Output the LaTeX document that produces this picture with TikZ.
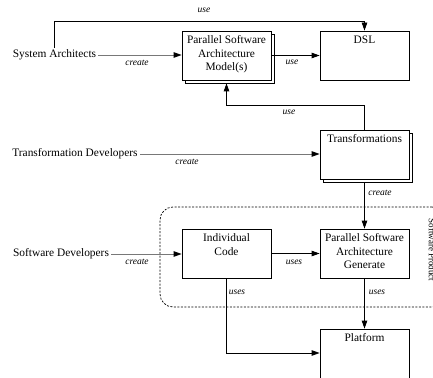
\documentclass[tikz,border=0pt]{standalone}
\usepackage{fontspec}
\setmainfont{Liberation Serif}
\usetikzlibrary{arrows.meta}
\definecolor{gline}{RGB}{120,120,120}
\begin{document}
\begin{tikzpicture}[x=1pt,y=-1pt,
  every node/.style={font=\fontsize{11.4}{13.5}\selectfont},
  actor/.style={inner sep=2pt},
  box/.style={draw, line width=0.8pt, fill=white, minimum width=89pt, minimum height=49pt, inner sep=0pt},
  boxtext/.style={align=center, anchor=north, inner sep=0pt},
  lbl/.style={font=\fontsize{9.5}{11}\selectfont\itshape, inner sep=0pt},
  conn/.style={line width=0.8pt, -{Triangle[length=8pt,width=5.5pt]}},
  gconn/.style={line width=0.8pt, draw=gline, -{Triangle[length=8pt,width=5.5pt,color=black]}},
  product/.style={draw, line width=0.7pt, dash pattern=on 2pt off 1.5pt, rounded corners=13pt, minimum width=285pt, minimum height=100pt, inner sep=0pt}
]
\useasboundingbox (0,0) rectangle (433,377);
\clip (0,0) rectangle (433,377);

% software product region
\node[product] (prod) at (302.5,257) {};
\node[rotate=-90, inner sep=0pt, font=\fontsize{9}{10}\selectfont] (prodlbl) at (432,250) {Software Product};

% actors
\node[actor] (sa) at (54.5,55) {System Architects};
\node[actor] (td) at (75,154) {Transformation Developers};
\node[actor] (sd) at (61,254) {Software Developers};

% boxes
\node[box] (modelsh) at (229.5,58.5) {};
\node[box] (model) at (226.5,55.5) {};
\node[boxtext] (modeltxt) at ([yshift=-5pt]model.north) {Parallel Software\\Architecture\\Model(s)};

\node[box] (dsl) at (364.5,55.5) {};
\node[boxtext] (dsltxt) at ([yshift=-5pt]dsl.north) {DSL};

\node[box] (transsh) at (367.5,157.5) {};
\node[box] (trans) at (364.5,154.5) {};
\node[boxtext] (transtxt) at ([yshift=-5pt]trans.north) {Transformations};

\node[box] (ind) at (226.5,253.5) {};
\node[boxtext] (indtxt) at ([yshift=-5pt]ind.north) {Individual\\Code};

\node[box] (gen) at (364.5,253.5) {};
\node[boxtext] (gentxt) at ([yshift=-5pt]gen.north) {Parallel Software\\Architecture\\Generate};

\node[box, minimum height=60pt] (plat) at (364.5,359) {};
\node[boxtext] (plattxt) at ([yshift=-5pt]plat.north) {Platform};

% connectors
\draw[conn] (sa.north) |- ([yshift=9pt]dsl.north) -- (dsl.north);
\draw[gconn] (sa.east) -- (sa.east -| model.west);
\draw[conn] (model.east) -- (dsl.west);
\coordinate (bend) at (226.5,105);
\draw[conn] (trans.north) |- (bend) -- (bend |- modelsh.south);
\draw[gconn] (td.east) -- (td.east -| trans.west);
\draw[conn] (transsh.south -| trans.south) -- (gen.north);
\draw[gconn] (sd.east) -- (sd.east -| ind.west);
\draw[conn] (ind.east) -- (gen.west);
\draw[conn] (gen.south) -- (plat.north);
\draw[conn] (ind.south) |- ([yshift=6pt]plat.west);

% labels
\node[lbl] (l1) at (204,10) {use};
\node[lbl] (l2) at (137,63) {create};
\node[lbl] (l3) at (292,62) {use};
\node[lbl] (l4) at (289,112) {use};
\node[lbl] (l5) at (187,162) {create};
\node[lbl] (l6) at (380,193) {create};
\node[lbl] (l7) at (137,262) {create};
\node[lbl] (l8) at (294,262) {uses};
\node[lbl] (l9) at (237,292) {uses};
\node[lbl] (l10) at (377,292) {uses};
\end{tikzpicture}
\end{document}
